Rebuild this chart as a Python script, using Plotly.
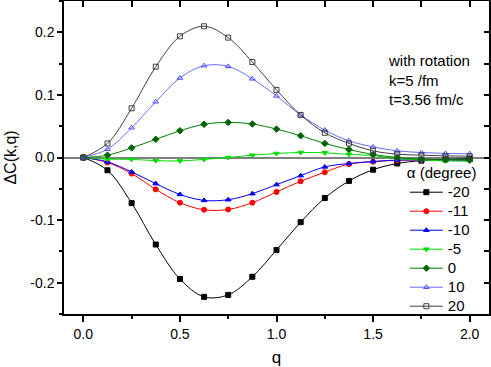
import plotly.graph_objects as go

q = [0, 0.125, 0.25, 0.375, 0.5, 0.625, 0.75, 0.875, 1.0,
     1.125, 1.25, 1.375, 1.5, 1.625, 1.75, 1.875, 2.0]

alpha_labels = ["-20", "-11", "-10", "-5", "0", "10", "20"]

dc_m20 = [0, -0.0204, -0.0728, -0.139, -0.194, -0.2226, -0.2194, -0.1905, -0.1477,
          -0.1033, -0.0648, -0.0375, -0.0195, -0.0096, -0.005, -0.003, -0.002]
dc_m11 = [0, -0.008, -0.0257, -0.0509, -0.0722, -0.0835, -0.083, -0.0722, -0.055,
          -0.038, -0.0235, -0.0105, -0.0067, -0.0045, -0.004, -0.004, -0.004]
dc_m10 = [0, -0.007, -0.023, -0.0417, -0.059, -0.0685, -0.0674, -0.0578, -0.0433,
          -0.029, -0.015, -0.0096, -0.0064, -0.004, -0.004, -0.004, -0.004]
dc_m5 = [0, -0.0027, -0.003, -0.005, -0.0055, -0.003, 0.0, 0.0037, 0.0064,
         0.008, 0.0075, 0.005, 0.003, -0.0016, -0.004, -0.0055, -0.006]
dc_0 = [0, 0.0037, 0.0154, 0.029, 0.0427, 0.053, 0.056, 0.0535, 0.0454,
        0.0347, 0.0225, 0.0128, 0.0048, 0.0, -0.0027, -0.003, -0.004]
dc_10 = [0, 0.0133, 0.0475, 0.089, 0.127, 0.1466, 0.1455, 0.1257, 0.0984,
         0.068, 0.0438, 0.0267, 0.017, 0.0106, 0.008, 0.0064, 0.006]
dc_20 = [0, 0.0225, 0.0786, 0.145, 0.1936, 0.2096, 0.1915, 0.1525, 0.108,
         0.068, 0.0395, 0.0225, 0.0106, 0.0053, 0.0037, 0.0026, 0.002]

x_ticks = [0.0, 0.5, 1.0, 1.5, 2.0]
y_ticks = [-0.2, -0.1, 0.0, 0.1, 0.2]

series = [dc_m20, dc_m11, dc_m10, dc_m5, dc_0, dc_10, dc_20]
styles = [
    ("#000000", "#000000", "square"),
    ("#ff0000", "#ff0000", "circle"),
    ("#0000ff", "#0000ff", "triangle-up"),
    ("#00e000", "#00e000", "triangle-down"),
    ("#008000", "#006400", "diamond"),
    ("#6a6aff", "#4a4aff", "triangle-up-open"),
    ("#404040", "#404040", "square-open"),
]

FONT = "Liberation Sans, Arial, sans-serif"

fig = go.Figure()
for vals, name, (lc, mc, sym) in zip(series, alpha_labels, styles):
    fig.add_trace(go.Scatter(
        x=q, y=vals, mode="lines+markers",
        # legend font is kept small for tight rows, label text shown at 15px
        name=f"<span style='font-size:15px'>{name}</span>",
        line=dict(color=lc, width=1, shape="spline", smoothing=1.0),
        marker=dict(symbol=sym, size=5, color=mc, line=dict(color=mc, width=1)),
    ))

# invisible trace that carries the mirrored (inside) top/right axes
fig.add_trace(go.Scatter(x=[0], y=[0], xaxis="x2", yaxis="y2",
                         showlegend=False, hoverinfo="skip", mode="markers",
                         marker=dict(opacity=0)))

fig.add_annotation(
    x=0.757, y=0.842, xref="paper", yref="paper", xanchor="left", yanchor="top",
    text="with rotation<br>k=5 /fm<br>t=3.56 fm/c", showarrow=False, align="left",
    font=dict(family=FONT, size=15, color="black"),
)

fig.update_layout(
    width=491, height=367,
    margin=dict(l=64, r=2, t=1, b=53, autoexpand=False),
    paper_bgcolor="white", plot_bgcolor="white",
    font=dict(family=FONT, size=14, color="black"),
    legend=dict(
        title=dict(text="α (degree)", font=dict(size=15)),
        x=0.802, xanchor="left", y=-0.023, yanchor="bottom",
        bgcolor="rgba(0,0,0,0)", font=dict(size=12),
        tracegroupgap=0, itemwidth=33,
    ),
    xaxis=dict(
        range=[-0.1, 2.1], tickvals=x_ticks,
        ticktext=[f"{v:.1f}" for v in x_ticks], automargin=False,
        ticks="outside", ticklen=6, tickwidth=1.5, tickcolor="black",
        minor=dict(dtick=0.25, tick0=0, ticks="outside", ticklen=3, tickcolor="black"),
        showline=True, linecolor="black", linewidth=1.5,
        showgrid=False, zeroline=False,
        title=dict(text="q", font=dict(size=17), standoff=16),
    ),
    yaxis=dict(
        range=[-0.25, 0.25], tickvals=y_ticks,
        ticktext=[f"{v:.1f}" for v in y_ticks], automargin=False,
        ticks="outside", ticklen=5, tickwidth=1.5, tickcolor="black",
        minor=dict(dtick=0.05, tick0=0, ticks="outside", ticklen=3, tickcolor="black"),
        showline=True, linecolor="black", linewidth=1.5,
        showgrid=False, zeroline=True, zerolinecolor="#808080", zerolinewidth=1.5,
        title=dict(text="ΔC(k,q)", font=dict(size=16), standoff=10),
    ),
    xaxis2=dict(
        overlaying="x", side="top", matches="x", range=[-0.1, 2.1],
        dtick=0.25, tick0=0, ticks="inside", ticklen=6, tickwidth=1.5,
        tickcolor="black", showticklabels=False, showline=True, automargin=False,
        linecolor="black", linewidth=1.5, showgrid=False, zeroline=False,
    ),
    yaxis2=dict(
        overlaying="y", side="right", range=[-0.25, 0.25],
        dtick=0.05, tick0=0, ticks="inside", ticklen=5, tickwidth=1.5,
        tickcolor="black", showticklabels=False, showline=True, automargin=False,
        linecolor="black", linewidth=1.5, showgrid=False, zeroline=False,
    ),
)

# drop the page's default body margin so the figure sits at the window corner
fig.write_html("out.html", config={"displayModeBar": False},
               post_script="document.body.style.margin = '0';")
